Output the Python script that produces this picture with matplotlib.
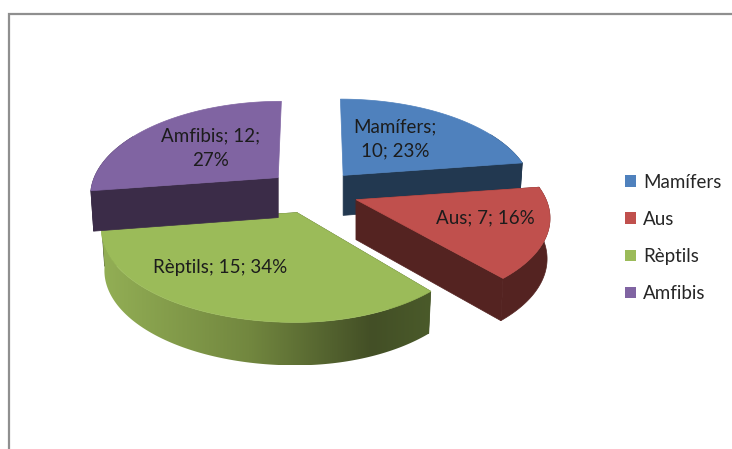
import numpy as np
import matplotlib
matplotlib.use("Agg")
import matplotlib.pyplot as plt
from matplotlib.colors import LinearSegmentedColormap
from matplotlib.patches import Patch, Polygon

names = ["Mamífers", "Aus", "Rèptils", "Amfibis"]
values = [10, 7, 15, 12]

top_colors = ["#4F81BD", "#C0504D", "#9BBB59", "#8064A2"]
side_colors = ["#223850", "#542321", "#445227", "#3B2C48"]

plt.rcParams["font.family"] = ["Lato", "DejaVu Sans"]

# pie geometry in pixels
cx, cy = 313, 192
radius_left = [184, 184, 192, 184]
radius_right = [186, 190, 178, 186]
ry = 90
persp = 0.18
lean = 0.09
explode_x, explode_y = 46, 22
depth = 40

reptils_rim = LinearSegmentedColormap.from_list(
    "rim", [(0, "#93AF55"), (0.45, "#72873F"), (0.82, "#434F26"), (1, "#4A5A2A")])


def project(apex, ang, rl, rr):
    u = np.sin(ang)
    v = np.cos(ang)
    s = 1/(1+persp*v)
    rad = np.where(u < 0, rl, rr)
    return apex[0]+rad*u*s-lean*(apex[0]-cx)*v, apex[1]-ry*v*s


def lower(apex, x, y, ang):
    v = np.cos(ang)
    return apex[0]+(x-apex[0])*0.985, y+depth-3*v


fig = plt.figure(figsize=(7.32, 4.49), dpi=100)
ax = fig.add_axes([0, 0, 1, 1])
ax.axis("off")

# frame of the chart, only top and left show
ax.plot([9, 9, 732], [449, 14, 14], color="#8F8F8F", lw=1.6, solid_joinstyle="miter")

total = sum(values)
edges = np.radians(np.cumsum([0]+values)/total*360)

for i in [0, 3, 1, 2]:
    a0, a1 = edges[i], edges[i+1]
    mid = (a0+a1)/2
    apex = (cx+explode_x*np.sin(mid), cy-explode_y*np.cos(mid))

    ang = np.linspace(a0, a1, 120)
    xs, ys = project(apex, ang, radius_left[i], radius_right[i])
    bx, by = lower(apex, xs, ys, ang)
    abx, aby = apex[0], apex[1]+depth

    # straight faces first, the one at the very back does not show
    for k in [0, -1]:
        if np.cos(ang[k]) > 0.99:
            continue
        ax.fill(np.r_[apex[0], xs[k], bx[k], abx], np.r_[apex[1], ys[k], by[k], aby],
                color=side_colors[i], lw=0.5, zorder=2+i)

    # curved rim
    rim_x = np.r_[xs, bx[::-1]]
    rim_y = np.r_[ys, by[::-1]]
    if names[i] == "Rèptils":
        clip = Polygon(np.c_[rim_x, rim_y], closed=True, transform=ax.transData)
        grad = np.linspace(0, 1, 256).reshape(1, -1)
        im = ax.imshow(grad, cmap=reptils_rim, aspect="auto", zorder=2+i,
                       extent=[rim_x.min(), rim_x.max(), rim_y.max(), rim_y.min()])
        im.set_clip_path(clip)
    elif names[i] in ("Aus",):
        ax.fill(rim_x, rim_y, color=side_colors[i], lw=0.5, zorder=2+i)
    else:
        # back wedges: only the part of the rim below the top face can show
        keep = np.cos(ang) < 0.5
        ax.fill(np.r_[xs[keep], bx[keep][::-1]], np.r_[ys[keep], by[keep][::-1]],
                color=side_colors[i], lw=0.5, zorder=2+i)

    ax.fill(np.r_[apex[0], xs], np.r_[apex[1], ys], color=top_colors[i], lw=0.5, zorder=2+i)

ax.set_xlim(0, 732)
ax.set_ylim(449, 0)

pcts = [round(v/total*100) for v in values]
label_text = [
    f"{names[0]};\n{values[0]}; {pcts[0]}%",
    f"{names[1]}; {values[1]}; {pcts[1]}%",
    f"{names[2]}; {values[2]}; {pcts[2]}%",
    f"{names[3]}; {values[3]};\n{pcts[3]}%",
]
label_pos = [(395, 139), (485, 218), (220, 267), (211, 148)]
for s, p in zip(label_text, label_pos):
    ax.text(p[0], p[1], s, ha="center", va="center", fontsize=13.5, color="#1C1C1C",
            linespacing=1.55, zorder=10)

handles = [Patch(facecolor=c, edgecolor="none") for c in top_colors]
ax.legend(handles, names, loc="center left", bbox_to_anchor=(619.5/732, 1-238/449), frameon=False,
          fontsize=13.5, labelcolor="#262626", handlelength=0.59, handleheight=0.59,
          handletextpad=0.37, labelspacing=1.07, borderpad=0, borderaxespad=0.3)

fig.savefig("out.png", dpi=100)
